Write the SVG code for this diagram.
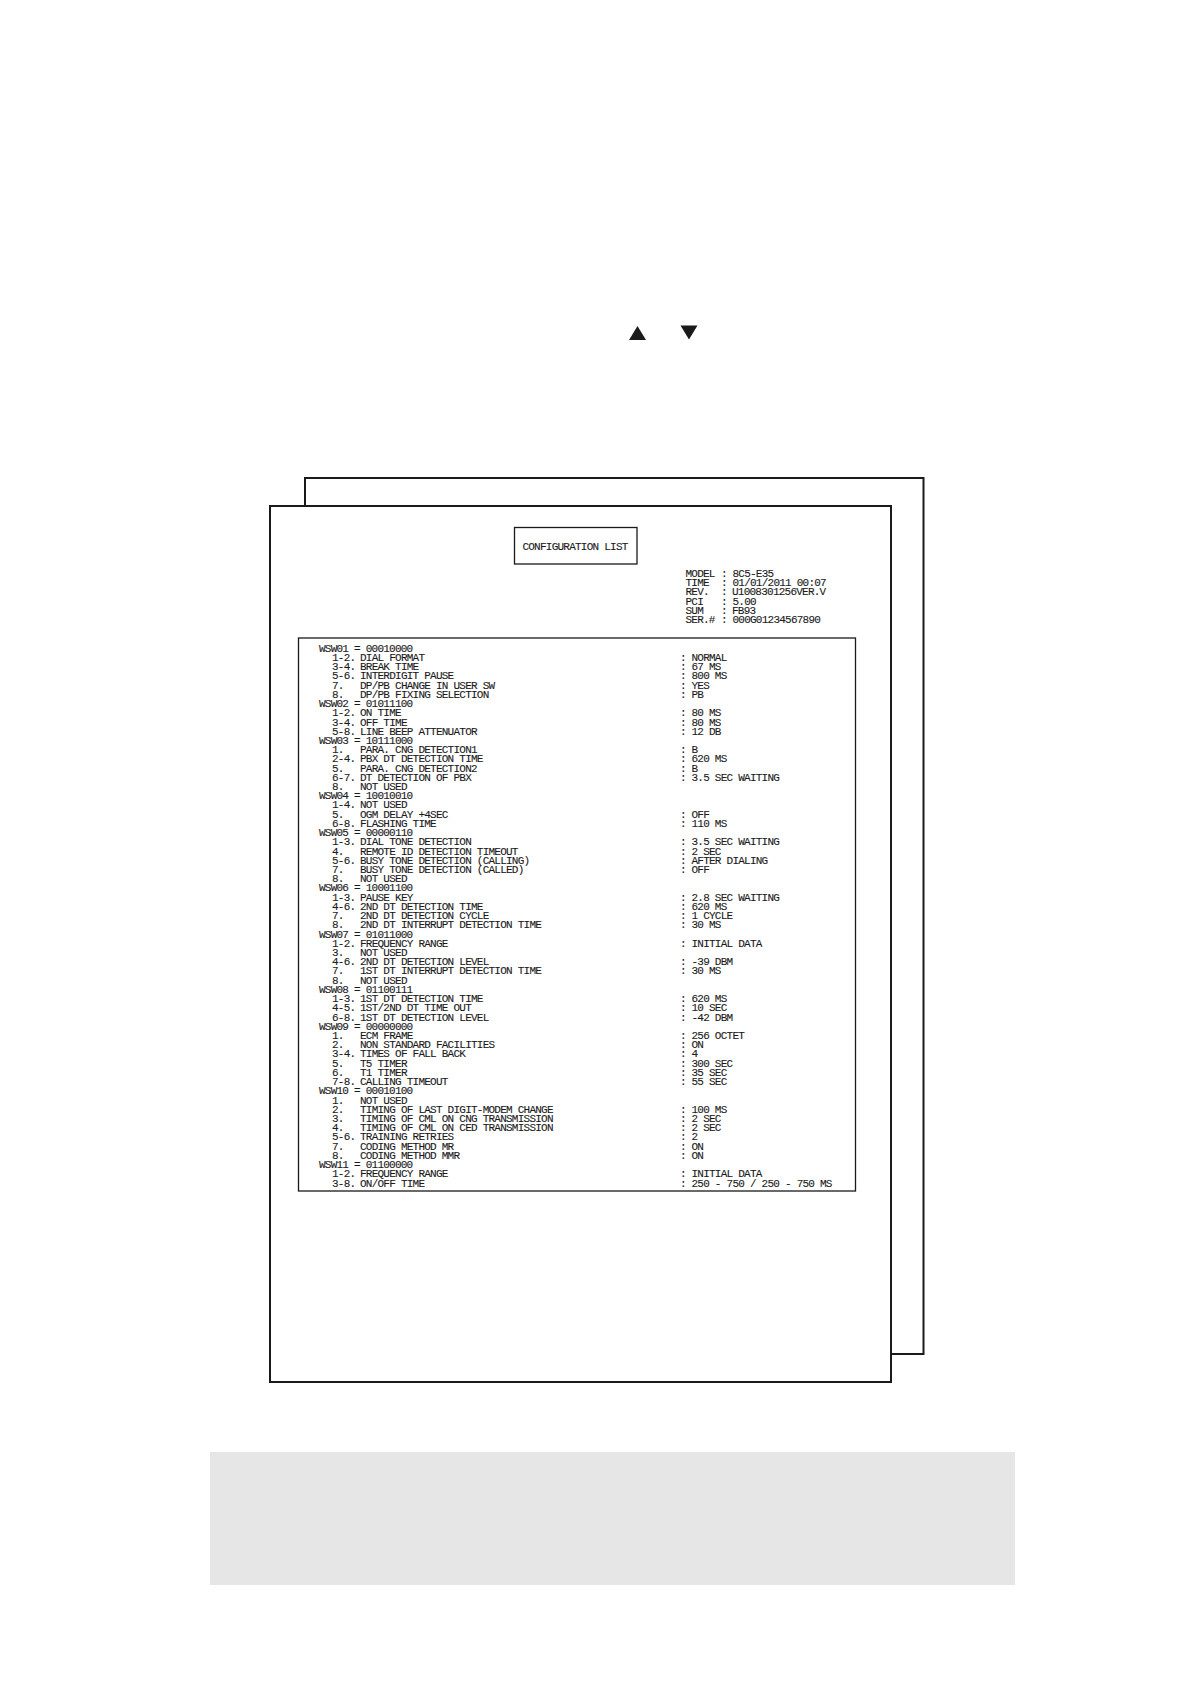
<svg xmlns="http://www.w3.org/2000/svg" width="1190" height="1684" viewBox="0 0 1190 1684">
<style>
text{font-family:"Liberation Mono","DejaVu Sans Mono",monospace;font-size:11px;letter-spacing:-.76px;fill:#1a1a1a;stroke:#1a1a1a;stroke-width:.1}
.page{fill:#fff;stroke:#1a1a1a;stroke-width:2}
.box{fill:#fff;stroke:#1a1a1a;stroke-width:1.3}
.tri{fill:#1a1a1a}
</style>
<rect width="1190" height="1684" fill="#fff"/>
<g id="arrows"><polygon class="tri" points="637.5,326 646,340 629,340"/><polygon class="tri" points="689,339.5 680.5,325.5 697.5,325.5"/></g>
<rect id="page-back" class="page" x="305" y="478" width="618.5" height="876"/>
<rect id="page-front" class="page" x="270" y="506" width="621" height="876"/>
<g id="title"><rect class="box" x="514.5" y="527.5" width="122.5" height="36.5"/><text x="575" y="549.5" text-anchor="middle">CONFIGURATION LIST</text></g>
<g id="header" transform="translate(0,-.6)">
<text y="577.3"><tspan x="685.5">MODEL</tspan><tspan x="721">:</tspan><tspan x="732.5">8C5-E35</tspan></text>
<text y="586.6"><tspan x="685.5">TIME</tspan><tspan x="721">:</tspan><tspan x="732.5">01/01/2011 00:07</tspan></text>
<text y="595.9"><tspan x="685.5">REV.</tspan><tspan x="721">:</tspan><tspan x="732">U1008301256VER.V</tspan></text>
<text y="605.2"><tspan x="685.5">PCI</tspan><tspan x="721">:</tspan><tspan x="732.5">5.00</tspan></text>
<text y="614.5"><tspan x="685.5">SUM</tspan><tspan x="721">:</tspan><tspan x="732">FB93</tspan></text>
<text y="623.8"><tspan x="685.5">SER.#</tspan><tspan x="721">:</tspan><tspan x="732.5">000G01234567890</tspan></text>
</g>
<rect id="list-box" class="box" x="298.5" y="638" width="557" height="553"/>
<g id="list" transform="translate(0,-.4)">
<text y="652.2" x="319">WSW01 = 00010000</text>
<text y="661.4"><tspan x="332">1-2.</tspan><tspan x="360">DIAL FORMAT</tspan><tspan x="680">:</tspan><tspan x="691.5">NORMAL</tspan></text>
<text y="670.6"><tspan x="332">3-4.</tspan><tspan x="360">BREAK TIME</tspan><tspan x="680">:</tspan><tspan x="691.5">67 MS</tspan></text>
<text y="679.9"><tspan x="332">5-6.</tspan><tspan x="360">INTERDIGIT PAUSE</tspan><tspan x="680">:</tspan><tspan x="691.5">800 MS</tspan></text>
<text y="689.1"><tspan x="332">7.</tspan><tspan x="360">DP/PB CHANGE IN USER SW</tspan><tspan x="680">:</tspan><tspan x="691.5">YES</tspan></text>
<text y="698.3"><tspan x="332">8.</tspan><tspan x="360">DP/PB FIXING SELECTION</tspan><tspan x="680">:</tspan><tspan x="691.5">PB</tspan></text>
<text y="707.5" x="319">WSW02 = 01011100</text>
<text y="716.7"><tspan x="332">1-2.</tspan><tspan x="360">ON TIME</tspan><tspan x="680">:</tspan><tspan x="691.5">80 MS</tspan></text>
<text y="726"><tspan x="332">3-4.</tspan><tspan x="360">OFF TIME</tspan><tspan x="680">:</tspan><tspan x="691.5">80 MS</tspan></text>
<text y="735.2"><tspan x="332">5-8.</tspan><tspan x="360">LINE BEEP ATTENUATOR</tspan><tspan x="680">:</tspan><tspan x="691.5">12 DB</tspan></text>
<text y="744.4" x="319">WSW03 = 10111000</text>
<text y="753.6"><tspan x="332">1.</tspan><tspan x="360">PARA. CNG DETECTION1</tspan><tspan x="680">:</tspan><tspan x="691.5">B</tspan></text>
<text y="762.8"><tspan x="332">2-4.</tspan><tspan x="360">PBX DT DETECTION TIME</tspan><tspan x="680">:</tspan><tspan x="691.5">620 MS</tspan></text>
<text y="772.1"><tspan x="332">5.</tspan><tspan x="360">PARA. CNG DETECTION2</tspan><tspan x="680">:</tspan><tspan x="691.5">B</tspan></text>
<text y="781.3"><tspan x="332">6-7.</tspan><tspan x="360">DT DETECTION OF PBX</tspan><tspan x="680">:</tspan><tspan x="691.5">3.5 SEC WAITING</tspan></text>
<text y="790.5"><tspan x="332">8.</tspan><tspan x="360">NOT USED</tspan></text>
<text y="799.7" x="319">WSW04 = 10010010</text>
<text y="808.9"><tspan x="332">1-4.</tspan><tspan x="360">NOT USED</tspan></text>
<text y="818.2"><tspan x="332">5.</tspan><tspan x="360">OGM DELAY +4SEC</tspan><tspan x="680">:</tspan><tspan x="691.5">OFF</tspan></text>
<text y="827.4"><tspan x="332">6-8.</tspan><tspan x="360">FLASHING TIME</tspan><tspan x="680">:</tspan><tspan x="691.5">110 MS</tspan></text>
<text y="836.6" x="319">WSW05 = 00000110</text>
<text y="845.8"><tspan x="332">1-3.</tspan><tspan x="360">DIAL TONE DETECTION</tspan><tspan x="680">:</tspan><tspan x="691.5">3.5 SEC WAITING</tspan></text>
<text y="855"><tspan x="332">4.</tspan><tspan x="360">REMOTE ID DETECTION TIMEOUT</tspan><tspan x="680">:</tspan><tspan x="691.5">2 SEC</tspan></text>
<text y="864.3"><tspan x="332">5-6.</tspan><tspan x="360">BUSY TONE DETECTION (CALLING)</tspan><tspan x="680">:</tspan><tspan x="691.5">AFTER DIALING</tspan></text>
<text y="873.5"><tspan x="332">7.</tspan><tspan x="360">BUSY TONE DETECTION (CALLED)</tspan><tspan x="680">:</tspan><tspan x="691.5">OFF</tspan></text>
<text y="882.7"><tspan x="332">8.</tspan><tspan x="360">NOT USED</tspan></text>
<text y="891.9" x="319">WSW06 = 10001100</text>
<text y="901.1"><tspan x="332">1-3.</tspan><tspan x="360">PAUSE KEY</tspan><tspan x="680">:</tspan><tspan x="691.5">2.8 SEC WAITING</tspan></text>
<text y="910.4"><tspan x="332">4-6.</tspan><tspan x="360">2ND DT DETECTION TIME</tspan><tspan x="680">:</tspan><tspan x="691.5">620 MS</tspan></text>
<text y="919.6"><tspan x="332">7.</tspan><tspan x="360">2ND DT DETECTION CYCLE</tspan><tspan x="680">:</tspan><tspan x="691.5">1 CYCLE</tspan></text>
<text y="928.8"><tspan x="332">8.</tspan><tspan x="360">2ND DT INTERRUPT DETECTION TIME</tspan><tspan x="680">:</tspan><tspan x="691.5">30 MS</tspan></text>
<text y="938" x="319">WSW07 = 01011000</text>
<text y="947.2"><tspan x="332">1-2.</tspan><tspan x="360">FREQUENCY RANGE</tspan><tspan x="680">:</tspan><tspan x="691.5">INITIAL DATA</tspan></text>
<text y="956.5"><tspan x="332">3.</tspan><tspan x="360">NOT USED</tspan></text>
<text y="965.7"><tspan x="332">4-6.</tspan><tspan x="360">2ND DT DETECTION LEVEL</tspan><tspan x="680">:</tspan><tspan x="691.5">-39 DBM</tspan></text>
<text y="974.9"><tspan x="332">7.</tspan><tspan x="360">1ST DT INTERRUPT DETECTION TIME</tspan><tspan x="680">:</tspan><tspan x="691.5">30 MS</tspan></text>
<text y="984.1"><tspan x="332">8.</tspan><tspan x="360">NOT USED</tspan></text>
<text y="993.3" x="319">WSW08 = 01100111</text>
<text y="1002.6"><tspan x="332">1-3.</tspan><tspan x="360">1ST DT DETECTION TIME</tspan><tspan x="680">:</tspan><tspan x="691.5">620 MS</tspan></text>
<text y="1011.8"><tspan x="332">4-5.</tspan><tspan x="360">1ST/2ND DT TIME OUT</tspan><tspan x="680">:</tspan><tspan x="691.5">10 SEC</tspan></text>
<text y="1021"><tspan x="332">6-8.</tspan><tspan x="360">1ST DT DETECTION LEVEL</tspan><tspan x="680">:</tspan><tspan x="691.5">-42 DBM</tspan></text>
<text y="1030.2" x="319">WSW09 = 00000000</text>
<text y="1039.4"><tspan x="332">1.</tspan><tspan x="360">ECM FRAME</tspan><tspan x="680">:</tspan><tspan x="691.5">256 OCTET</tspan></text>
<text y="1048.7"><tspan x="332">2.</tspan><tspan x="360">NON STANDARD FACILITIES</tspan><tspan x="680">:</tspan><tspan x="691.5">ON</tspan></text>
<text y="1057.9"><tspan x="332">3-4.</tspan><tspan x="360">TIMES OF FALL BACK</tspan><tspan x="680">:</tspan><tspan x="691.5">4</tspan></text>
<text y="1067.1"><tspan x="332">5.</tspan><tspan x="360">T5 TIMER</tspan><tspan x="680">:</tspan><tspan x="691.5">300 SEC</tspan></text>
<text y="1076.3"><tspan x="332">6.</tspan><tspan x="360">T1 TIMER</tspan><tspan x="680">:</tspan><tspan x="691.5">35 SEC</tspan></text>
<text y="1085.5"><tspan x="332">7-8.</tspan><tspan x="360">CALLING TIMEOUT</tspan><tspan x="680">:</tspan><tspan x="691.5">55 SEC</tspan></text>
<text y="1094.8" x="319">WSW10 = 00010100</text>
<text y="1104"><tspan x="332">1.</tspan><tspan x="360">NOT USED</tspan></text>
<text y="1113.2"><tspan x="332">2.</tspan><tspan x="360">TIMING OF LAST DIGIT-MODEM CHANGE</tspan><tspan x="680">:</tspan><tspan x="691.5">100 MS</tspan></text>
<text y="1122.4"><tspan x="332">3.</tspan><tspan x="360">TIMING OF CML ON CNG TRANSMISSION</tspan><tspan x="680">:</tspan><tspan x="691.5">2 SEC</tspan></text>
<text y="1131.6"><tspan x="332">4.</tspan><tspan x="360">TIMING OF CML ON CED TRANSMISSION</tspan><tspan x="680">:</tspan><tspan x="691.5">2 SEC</tspan></text>
<text y="1140.9"><tspan x="332">5-6.</tspan><tspan x="360">TRAINING RETRIES</tspan><tspan x="680">:</tspan><tspan x="691.5">2</tspan></text>
<text y="1150.1"><tspan x="332">7.</tspan><tspan x="360">CODING METHOD MR</tspan><tspan x="680">:</tspan><tspan x="691.5">ON</tspan></text>
<text y="1159.3"><tspan x="332">8.</tspan><tspan x="360">CODING METHOD MMR</tspan><tspan x="680">:</tspan><tspan x="691.5">ON</tspan></text>
<text y="1168.5" x="319">WSW11 = 01100000</text>
<text y="1177.7"><tspan x="332">1-2.</tspan><tspan x="360">FREQUENCY RANGE</tspan><tspan x="680">:</tspan><tspan x="691.5">INITIAL DATA</tspan></text>
<text y="1187"><tspan x="332">3-8.</tspan><tspan x="360">ON/OFF TIME</tspan><tspan x="680">:</tspan><tspan x="691.5">250 - 750 / 250 - 750 MS</tspan></text>
</g>
<rect id="note-band" x="210" y="1452" width="805" height="133" fill="#e6e6e6"/>
</svg>
